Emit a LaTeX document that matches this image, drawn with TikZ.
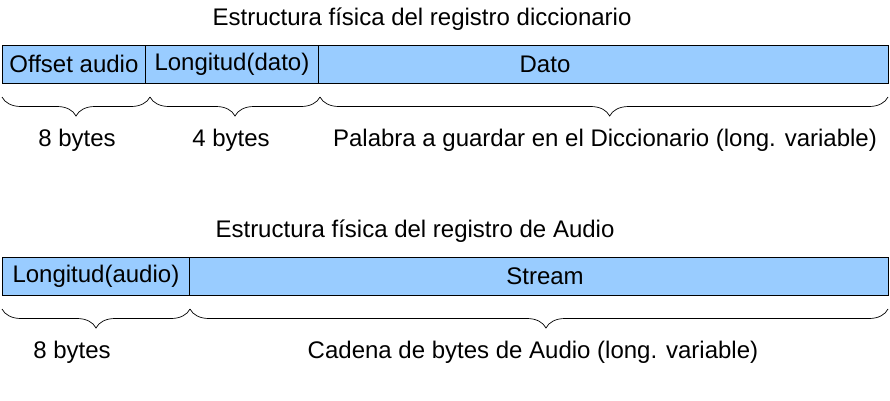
\documentclass[tikz,border=0pt]{standalone}
\usepackage{fontspec}
\setmainfont{Liberation Sans}
\usetikzlibrary{decorations.pathreplacing}
\definecolor{cellblue}{HTML}{99CCFF}
\tikzset{
  cell/.style={draw=black, fill=cellblue, line width=0.8pt, inner sep=0pt, anchor=north west, minimum height=38pt},
  lbl/.style={inner sep=0pt, font=\fontsize{24}{28}\selectfont},
  brc/.style={decorate, decoration={brace, mirror, amplitude=19pt, aspect=0.5}, line width=0.7pt},
}
\begin{document}
\begin{tikzpicture}[x=1pt,y=-1pt]
\useasboundingbox (0,0) rectangle (890,400);
% row 1
\node[lbl] (t1) at (422,19) {Estructura física del registro diccionario};
\node[cell, minimum width=143pt] (c11) at (2,45) {};
\node[cell, minimum width=173pt] (c12) at (145,45) {};
\node[cell, minimum width=570pt] (c13) at (318,45) {};
\node[lbl] (x11) at (c11.center) {Offset audio};
\node[lbl] (x12) at (c12.center) {Longitud(dato)};
\node[lbl] (x13) at (545,64) {Dato};
\coordinate (b10) at (2,97);
\coordinate (b11) at (150,97);
\coordinate (b12) at (320,97);
\coordinate (b13) at (888,97);
\draw[brc] (b10) -- (b11);
\draw[brc] (b11) -- (b12);
\draw[brc, decoration={aspect=0.51}] (b12) -- (b13);
\node[lbl] (l11) at (77,140) {8 bytes};
\node[lbl] (l12) at (231,140) {4 bytes};
\node[lbl] (l13) at (605,140) {Palabra a guardar en el Diccionario (long. variable)};
% row 2
\node[lbl] (t2) at (415,231) {Estructura física del registro de Audio};
\node[cell, minimum width=187pt] (c21) at (2,257) {};
\node[cell, minimum width=699pt] (c22) at (189,257) {};
\node[lbl] (x21) at (c21.center) {Longitud(audio)};
\node[lbl] (x22) at (545,276) {Stream};
\coordinate (b20) at (2,309);
\coordinate (b21) at (190,309);
\coordinate (b22) at (888,309);
\draw[brc] (b20) -- (b21);
\draw[brc, decoration={aspect=0.51}] (b21) -- (b22);
\node[lbl] (l21) at (72,352) {8 bytes};
\node[lbl] (l22) at (533,352) {Cadena de bytes de Audio (long. variable)};
\end{tikzpicture}
\end{document}
